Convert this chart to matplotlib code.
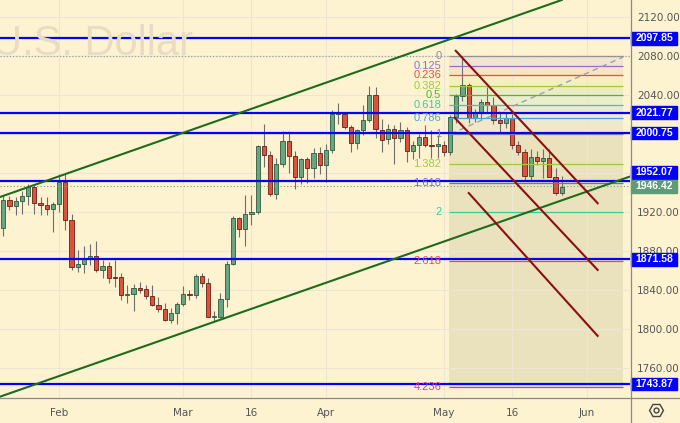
import matplotlib
matplotlib.use('Agg')
import matplotlib.pyplot as plt
import matplotlib.transforms as mtransforms
from matplotlib.patches import Rectangle
from matplotlib.lines import Line2D
import numpy as np
import pandas as pd

# daily candles, XAUUSD, 19 Jan -> 26 May 2023 (Good Friday skipped)
opens = [1904, 1932, 1926, 1931, 1936, 1946, 1929, 1927, 1923, 1928,
         1951, 1912, 1864, 1867, 1872, 1875, 1861, 1865, 1854, 1854,
         1835, 1836, 1842, 1841, 1834, 1825, 1821, 1810, 1817, 1826,
         1836, 1835, 1855, 1847, 1813, 1813, 1831, 1867, 1914, 1903,
         1918, 1920, 1988, 1978, 1939, 1969, 1993, 1977, 1956, 1974,
         1965, 1980, 1968, 1984, 2020, 2020, 2007, 1991, 2004, 2014,
         2040, 2004, 1995, 2005, 1996, 2004, 1983, 1989, 1997, 1989,
         1988, 1989, 1982, 2017, 2039, 2050, 2016, 2021, 2033, 2030,
         2014, 2011, 2016, 1989, 1981, 1957, 1976, 1972, 1975, 1956,
         1940]
highs = [1937, 1936, 1935, 1942, 1949, 1949, 1935, 1935, 1930, 1959,
         1960, 1918, 1881, 1885, 1887, 1890, 1871, 1869, 1871, 1858,
         1845, 1846, 1848, 1845, 1845, 1833, 1827, 1822, 1828, 1844,
         1840, 1857, 1858, 1853, 1819, 1837, 1870, 1916, 1915, 1937,
         1937, 1989, 2010, 1983, 1975, 2003, 2003, 1983, 1975, 1976,
         1986, 1987, 1990, 2025, 2032, 2022, 2009, 2005, 2030, 2049,
         2048, 2015, 2010, 2009, 2012, 2007, 1993, 2000, 2009, 2004,
         1999, 1993, 2019, 2041, 2079, 2052, 2026, 2036, 2048, 2038,
         2022, 2022, 2020, 1993, 1985, 1985, 1983, 1985, 1985, 1965,
         1957]
lows = [1896, 1922, 1917, 1918, 1927, 1918, 1917, 1917, 1900, 1920,
        1902, 1861, 1859, 1858, 1866, 1859, 1853, 1847, 1843, 1830,
        1827, 1819, 1837, 1831, 1824, 1818, 1809, 1806, 1805, 1824,
        1830, 1832, 1843, 1813, 1809, 1812, 1823, 1866, 1895, 1885,
        1907, 1918, 1966, 1936, 1933, 1966, 1960, 1944, 1949, 1950,
        1955, 1959, 1951, 1980, 2010, 2005, 1982, 1985, 1999, 2012,
        1996, 1982, 1990, 1969, 1992, 1971, 1974, 1975, 1987, 1975,
        1975, 1977, 1978, 2011, 2034, 2011, 2012, 2014, 2021, 2010,
        2002, 2006, 1985, 1978, 1952, 1952, 1968, 1955, 1956, 1937,
        1937]
closes = [1932, 1926, 1931, 1936, 1946, 1929, 1927, 1923, 1928, 1951,
          1912, 1864, 1867, 1872, 1875, 1861, 1865, 1853, 1853, 1835,
          1836, 1842, 1840, 1834, 1825, 1821, 1810, 1817, 1826, 1836,
          1835, 1855, 1847, 1813, 1814, 1831, 1867, 1914, 1903, 1918,
          1920, 1988, 1978, 1939, 1969, 1993, 1977, 1956, 1974, 1965,
          1980, 1968, 1984, 2020, 2021, 2007, 1991, 2004, 2014, 2040,
          2005, 1994, 2005, 1996, 2004, 1983, 1989, 1997, 1989, 1988,
          1990, 1982, 2017, 2039, 2050, 2016, 2021, 2033, 2030, 2014,
          2011, 2016, 1989, 1981, 1957, 1976, 1972, 1975, 1956, 1940,
          1946]
last_price = 1946.42

tick_dates = ['2023-02-01', '2023-03-01', '2023-03-16', '2023-04-03',
              '2023-05-01', '2023-05-16', '2023-06-01']
tick_names = ['Feb', 'Mar', '16', 'Apr', 'May', '16', 'Jun']

price_ticks = [1760, 1800, 1840, 1880, 1920, 1960, 2000, 2040, 2080, 2120]

# horizontal support / resistance levels
levels = [2097.85, 2021.77, 2000.75, 1952.07, 1871.58, 1743.87]

# fib extension
fib_ratios = [0, 0.125, 0.236, 0.382, 0.5, 0.618, 0.786, 1, 1.382, 1.618, 2, 2.618, 4.236]
fib_names = ['0', '0.125', '0.236', '0.382', '0.5', '0.618', '0.786', '1',
             '1.382', '1.618', '2', '2.618', '4.236']
fib_colors = ['#8c8c8c', '#8e6fd1', '#e0514a', '#9ccc3c', '#43b843', '#3cc9a0',
              '#4aa3df', '#8c8c8c', '#9ccc3c', '#6a70c8', '#3cc9a0', '#e0514a', '#d63ca0']
fib_top, fib_range = 2079.5, 79.9
fib_x = (71.8, 99.9)

# trend lines (bar index, price)
green_up = [(-0.5, 1935.5), (90.0, 2137.1)]
green_low = [(-0.5, 1731.1), (98.6, 1951.1)]
red_lines = [[(72.8, 2085.9), (95.9, 1928.3)],
             [(72.6, 2017.6), (95.9, 1860.0)],
             [(74.9, 1940.3), (95.9, 1792.5)]]
fib_diag = [(72.1, 1999.9), (99.9, 2078.8)]

bg = '#fdf3d1'
fig = plt.figure(figsize=(6.8, 4.23), dpi=100, facecolor=bg)
ax = fig.add_axes([0, 25 / 423, 630 / 680, 398 / 423], facecolor=bg)
plt.rcParams['font.family'] = ['Liberation Sans', 'DejaVu Sans']

dates = pd.bdate_range('2023-01-19', '2023-06-30')
dates = dates[dates != pd.Timestamp('2023-04-07')]
xpos = np.arange(len(opens))
o = np.array(opens, float)
h = np.array(highs, float)
l = np.array(lows, float)
c = np.array(closes, float)
up = c >= o

ax.vlines(xpos, l, h, color='#6e6e6e', lw=0.8, zorder=2)
ax.bar(xpos[up], (c - o)[up], bottom=o[up], width=0.68, color='#6aa583',
       edgecolor='#2c5a3c', lw=0.6, zorder=2)
ax.bar(xpos[~up], (o - c)[~up], bottom=c[~up], width=0.68, color='#d9533f',
       edgecolor='#6b1e12', lw=0.6, zorder=2)

# fib zone: coloured bands above level 1, khaki below
fib_prices = [fib_top - fib_range * r for r in fib_ratios]
for i in range(7):
    ax.fill_between(fib_x, fib_prices[i + 1], fib_prices[i],
                    color=fib_colors[i + 1], alpha=0.1, lw=0, zorder=1)
ax.fill_between(fib_x, fib_prices[-1], fib_prices[7], color='#a8a878', alpha=0.22, lw=0, zorder=1)
for p, name, col in zip(fib_prices, fib_names, fib_colors):
    ax.hlines(p, fib_x[0], fib_x[1], color=col, lw=0.9, zorder=2)
    ax.text(fib_x[0] - 1.2, p, name, color=col, ha='right', va='center', fontsize=8, zorder=4)
ax.axhline(fib_prices[0], color='#a0a0a0', lw=0.9, ls=(0, (1, 1.5)), zorder=2)
ax.plot([p[0] for p in fib_diag], [p[1] for p in fib_diag], color='#a0a0a0',
        lw=1, ls=(0, (4, 3)), zorder=2)

ax.axhline(last_price, color='#6aa583', lw=0.8, ls=(0, (1, 2)), zorder=2)

for lv in levels:
    ax.axhline(lv, color='#0000ff', lw=1.6, zorder=3)

for ln in (green_up, green_low):
    ax.axline(ln[0], ln[1], color='#1e6b1e', lw=1.5, zorder=3)
for ln in red_lines:
    ax.plot([ln[0][0], ln[1][0]], [ln[0][1], ln[1][1]], color='#8b1010', lw=1.5,
            zorder=3, solid_capstyle='butt')

ax.set_xlim(-0.53, 101.0)
ax.set_ylim(1729.7, 2137.1)

# right-scale label boxes; a level box too close to the last price is nudged up
box_h = 12.5 / 0.977
box_pos = []
for lv in levels:
    if abs(lv - last_price) < box_h:
        box_pos.append(last_price + box_h + 1.3 / 0.977)
    else:
        box_pos.append(lv)

ax.set_xticks([dates.get_loc(pd.Timestamp(d)) for d in tick_dates])
ax.set_xticklabels(tick_names)
ax.set_yticks(price_ticks)
ax.set_yticklabels(['' if min(abs(t - b) for b in box_pos) < 4 else '%.2f' % t
                    for t in price_ticks])
ax.yaxis.tick_right()
ax.tick_params(axis='both', length=0, colors='#555555', labelsize=7.5)
ax.tick_params(axis='y', pad=5)
ax.tick_params(axis='x', pad=7)
ax.grid(True, color='#ede6d6', lw=0.8, zorder=0)
for s in ax.spines.values():
    s.set_visible(False)

# watermark
fig.text(-8 / 680, 1 - 55 / 423, 'U.S. Dollar', fontsize=30, color='#e8ddc2',
         va='baseline', ha='left', zorder=0.5)

trans = mtransforms.blended_transform_factory(fig.transFigure, ax.transData)
for lv, bp in zip(levels, box_pos):
    fig.add_artist(Rectangle((631 / 680, bp - box_h / 2), 46 / 680, box_h,
                             transform=trans, color='#0000ff', clip_on=False))
    fig.text(654 / 680, bp, '%.2f' % lv, transform=trans, color='white', fontsize=7.5,
             fontweight='bold', ha='center', va='center')
fig.add_artist(Rectangle((631 / 680, last_price - box_h / 2), 46 / 680, box_h,
                         transform=trans, color='#5e9c78', clip_on=False))
fig.text(654 / 680, last_price, '%.2f' % last_price, transform=trans, color='white',
         fontsize=7.5, fontweight='bold', ha='center', va='center')

# panel borders
fig.add_artist(Line2D([630.5 / 680, 630.5 / 680], [0, 1], color='#8a8a8a', lw=0.9,
                      transform=fig.transFigure))
fig.add_artist(Line2D([0, 1], [25 / 423, 25 / 423], color='#8a8a8a', lw=0.9,
                      transform=fig.transFigure))
# settings icon
fig.add_artist(Line2D([656 / 680], [13 / 423], marker='H', ms=10, mfc='none', mec='#444444',
                      mew=1.0, transform=fig.transFigure))
fig.add_artist(Line2D([656 / 680], [13 / 423], marker='o', ms=3.5, mfc='none', mec='#444444',
                      mew=1.0, transform=fig.transFigure))

fig.savefig('out.png', dpi=100, facecolor=bg)
